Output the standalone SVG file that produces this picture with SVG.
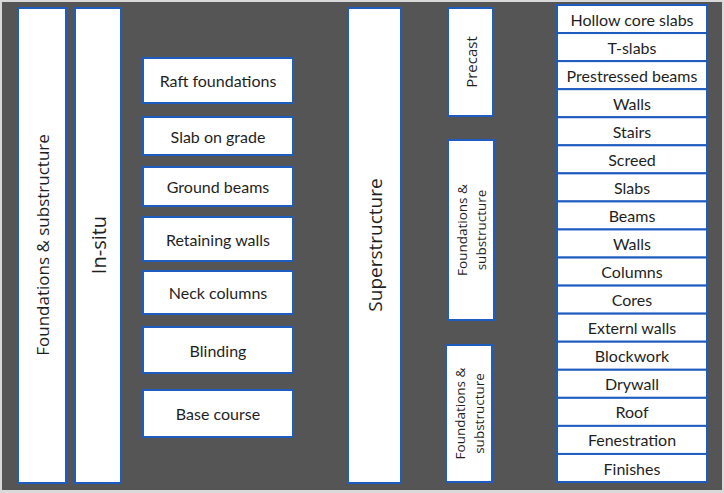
<svg xmlns="http://www.w3.org/2000/svg" width="724" height="493" viewBox="0 0 724 493">
<style>
.bx{fill:#ffffff;stroke:#1f5cc0;stroke-width:2}
.t{font-family:Lato,"Open Sans",sans-serif;font-size:16px;fill:#1f1f1f;text-anchor:middle;dominant-baseline:central}
.r{font-family:"Open Sans","Noto Sans",sans-serif;fill:#1f1f1f;text-anchor:middle;dominant-baseline:central}
</style>
<rect x="0" y="0" width="724" height="493" fill="#d9d9d9"/>
<rect x="2" y="2" width="720" height="488" fill="#555555"/>
<g id="n-foundations-substructure">
<rect class="bx" x="18" y="8" width="48" height="475"/>
<text class="r" font-size="17" transform="translate(42,245) rotate(-90)">Foundations &amp; substructure</text>
</g>
<g id="n-in-situ">
<rect class="bx" x="75" y="8" width="46" height="475"/>
<text class="r" font-size="20" transform="translate(98,245) rotate(-90)">In-situ</text>
</g>
<g id="n-raft"><rect class="bx" x="143" y="58" width="150" height="45"/><text class="t" x="218" y="80.5">Raft foundations</text></g>
<g id="n-slab-grade"><rect class="bx" x="143" y="117" width="150" height="38"/><text class="t" x="218" y="136">Slab on grade</text></g>
<g id="n-ground-beams"><rect class="bx" x="143" y="167" width="150" height="39"/><text class="t" x="218" y="186.5">Ground beams</text></g>
<g id="n-retaining"><rect class="bx" x="143" y="217" width="150" height="44"/><text class="t" x="218" y="239">Retaining walls</text></g>
<g id="n-neck"><rect class="bx" x="143" y="271" width="150" height="43"/><text class="t" x="218" y="292.5">Neck columns</text></g>
<g id="n-blinding"><rect class="bx" x="143" y="327" width="150" height="46"/><text class="t" x="218" y="350">Blinding</text></g>
<g id="n-base"><rect class="bx" x="143" y="390" width="150" height="47"/><text class="t" x="218" y="413.5">Base course</text></g>
<g id="n-superstructure">
<rect class="bx" x="348" y="8" width="53" height="475"/>
<text class="r" font-size="19" transform="translate(375,245) rotate(-90)">Superstructure</text>
</g>
<g id="n-precast">
<rect class="bx" x="448" y="8" width="45" height="108"/>
<text class="r" font-size="15" transform="translate(471,62) rotate(-90)">Precast</text>
</g>
<g id="n-fs-mid">
<rect class="bx" x="448" y="140" width="46" height="180"/>
<text class="r" font-size="13.5" transform="translate(462,230) rotate(-90)">Foundations &amp;</text>
<text class="r" font-size="13.5" transform="translate(481,230) rotate(-90)">substructure</text>
</g>
<g id="n-fs-bot">
<rect class="bx" x="446" y="345" width="46" height="137"/>
<text class="r" font-size="13.5" transform="translate(460,413.5) rotate(-90)">Foundations &amp;</text>
<text class="r" font-size="13.5" transform="translate(479,413.5) rotate(-90)">substructure</text>
</g>
<g id="n-list">
<rect class="bx" x="557" y="5" width="150" height="28.06"/><text class="t" x="632" y="19.5">Hollow core slabs</text>
<rect class="bx" x="557" y="33.06" width="150" height="28.06"/><text class="t" x="632" y="47.5">T-slabs</text>
<rect class="bx" x="557" y="61.12" width="150" height="28.06"/><text class="t" x="632" y="75.5">Prestressed beams</text>
<rect class="bx" x="557" y="89.18" width="150" height="28.06"/><text class="t" x="632" y="103.5">Walls</text>
<rect class="bx" x="557" y="117.24" width="150" height="28.06"/><text class="t" x="632" y="131.5">Stairs</text>
<rect class="bx" x="557" y="145.3" width="150" height="28.06"/><text class="t" x="632" y="159.5">Screed</text>
<rect class="bx" x="557" y="173.36" width="150" height="28.06"/><text class="t" x="632" y="187.5">Slabs</text>
<rect class="bx" x="557" y="201.42" width="150" height="28.06"/><text class="t" x="632" y="215.5">Beams</text>
<rect class="bx" x="557" y="229.48" width="150" height="28.06"/><text class="t" x="632" y="243.5">Walls</text>
<rect class="bx" x="557" y="257.54" width="150" height="28.06"/><text class="t" x="632" y="271.6">Columns</text>
<rect class="bx" x="557" y="285.6" width="150" height="28.06"/><text class="t" x="632" y="299.6">Cores</text>
<rect class="bx" x="557" y="313.66" width="150" height="28.06"/><text class="t" x="632" y="327.7">Externl walls</text>
<rect class="bx" x="557" y="341.72" width="150" height="28.06"/><text class="t" x="632" y="355.7">Blockwork</text>
<rect class="bx" x="557" y="369.78" width="150" height="28.06"/><text class="t" x="632" y="383.8">Drywall</text>
<rect class="bx" x="557" y="397.84" width="150" height="28.06"/><text class="t" x="632" y="411.9">Roof</text>
<rect class="bx" x="557" y="425.9" width="150" height="28.06"/><text class="t" x="632" y="439.9">Fenestration</text>
<rect class="bx" x="557" y="453.96" width="150" height="28.04"/><text class="t" x="632" y="468">Finishes</text>
</g>
<g id="connectors"></g>
</svg>
